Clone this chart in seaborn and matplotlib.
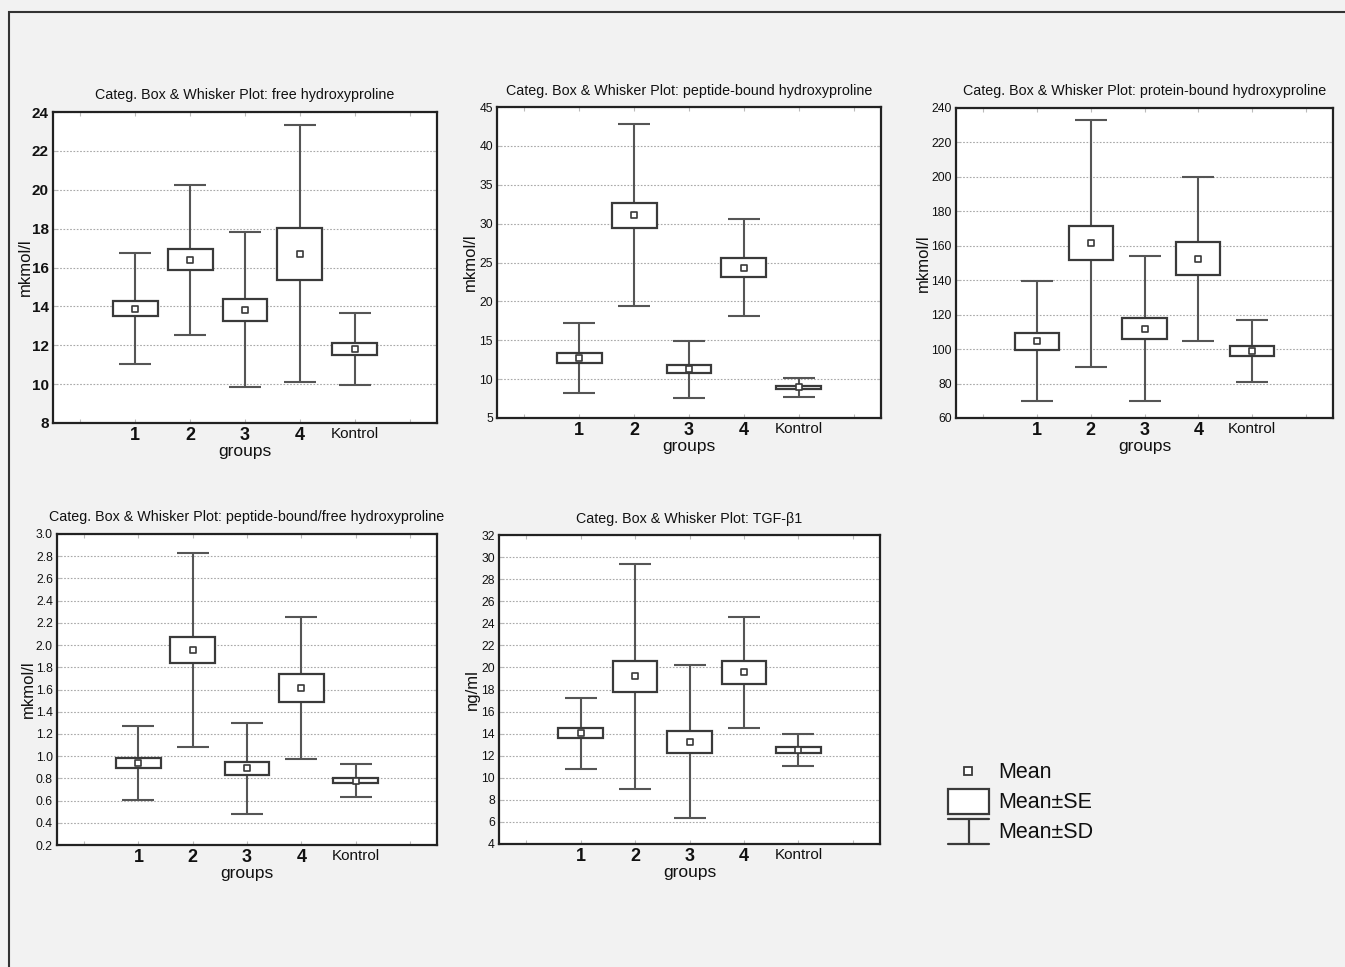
import numpy as np
import pandas as pd
import matplotlib
matplotlib.use("Agg")
import matplotlib.pyplot as plt
from matplotlib.patches import Rectangle
import seaborn as sns

# ---------------- data ----------------
groups = ["1", "2", "3", "4", "Kontrol"]

free_mean = [13.89, 16.40, 13.83, 16.70, 11.80]
free_se = [0.41, 0.53, 0.56, 1.32, 0.31]
free_sd = [2.87, 3.87, 3.98, 6.61, 1.85]

pep_mean = [12.75, 31.10, 11.27, 24.35, 8.95]
pep_se = [0.64, 1.60, 0.53, 1.22, 0.22]
pep_sd = [4.49, 11.70, 3.65, 6.22, 1.25]

prot_mean = [104.5, 161.6, 111.8, 152.6, 98.9]
prot_se = [4.85, 10.0, 6.0, 9.55, 3.1]
prot_sd = [34.9, 71.7, 42.2, 47.6, 17.9]

ratio_mean = [0.938, 1.957, 0.892, 1.614, 0.779]
ratio_se = [0.045, 0.120, 0.058, 0.128, 0.025]
ratio_sd = [0.330, 0.875, 0.410, 0.643, 0.147]

tgf_mean = [14.03, 19.18, 13.26, 19.57, 12.50]
tgf_se = [0.44, 1.42, 1.00, 1.03, 0.26]
tgf_sd = [3.21, 10.22, 6.94, 5.04, 1.46]

panels = [
    dict(title="Categ. Box & Whisker Plot: free hydroxyproline", ylabel="mkmol/l",
         mean=free_mean, se=free_se, sd=free_sd, ylim=(8, 24), step=2, fmt="{:.0f}",
         box=(53, 437, 112, 423), ybold=True, lpad=-1),
    dict(title="Categ. Box & Whisker Plot: peptide-bound hydroxyproline", ylabel="mkmol/l",
         mean=pep_mean, se=pep_se, sd=pep_sd, ylim=(5, 45), step=5, fmt="{:.0f}",
         box=(497, 881, 107, 418), ybold=False, lpad=1),
    dict(title="Categ. Box & Whisker Plot: protein-bound hydroxyproline", ylabel="mkmol/l",
         mean=prot_mean, se=prot_se, sd=prot_sd, ylim=(60, 240), step=20, fmt="{:.0f}",
         box=(956, 1333, 108, 418), ybold=False, lpad=0),
    dict(title="Categ. Box & Whisker Plot: peptide-bound/free hydroxyproline", ylabel="mkmol/l",
         mean=ratio_mean, se=ratio_se, sd=ratio_sd, ylim=(0.2, 3.0), step=0.2, fmt="{:.1f}",
         box=(57, 437, 534, 845), ybold=False, lpad=0),
    dict(title="Categ. Box & Whisker Plot: TGF-\u03b21", ylabel="ng/ml",
         mean=tgf_mean, se=tgf_se, sd=tgf_sd, ylim=(4, 32), step=2, fmt="{:.0f}",
         box=(499, 880, 535, 844), ybold=False, lpad=1),
]

# ---------------- style ----------------
sns.set_theme(style="white")
plt.rcParams["font.family"] = ["Liberation Sans", "DejaVu Sans"]

W, H = 1345, 967
BG = "#f2f2f2"
fig = plt.figure(figsize=(W / 100, H / 100), dpi=100, facecolor=BG)

WHISK = "#555555"
EDGE = "#3a3a3a"


def px_axes(l, r, t, b):
    return fig.add_axes([l / W, 1 - b / H, (r - l) / W, (b - t) / H])


for p in panels:
    ax = px_axes(*p["box"])
    ax.set_facecolor("white")
    df = pd.DataFrame({"group": groups, "mean": p["mean"], "se": p["se"], "sd": p["sd"]})
    pos = np.arange(len(groups))

    # Mean +/- SD whiskers
    ax.errorbar(pos, df["mean"], yerr=df["sd"], fmt="none", ecolor=WHISK,
                elinewidth=1.5, capsize=11.5, capthick=1.5, zorder=2)
    # Mean +/- SE boxes
    ax.bar(pos, 2 * df["se"], bottom=df["mean"] - df["se"], width=0.82,
           color="white", edgecolor=EDGE, linewidth=1.6, zorder=3)
    # Mean markers
    sns.stripplot(data=df, x="group", y="mean", order=groups, jitter=False, ax=ax,
                  marker="s", size=4.6, color="white", edgecolor=EDGE, linewidth=1.2,
                  zorder=4)

    lo, hi = p["ylim"]
    ax.set_ylim(lo, hi)
    yt = np.round(np.arange(lo, hi + p["step"] / 2, p["step"]), 3)
    ax.set_yticks(yt)
    if p["ybold"]:
        ax.set_yticklabels([p["fmt"].format(v) for v in yt], fontsize=11, fontweight="bold")
    else:
        ax.set_yticklabels([p["fmt"].format(v) for v in yt], fontsize=8.7)
    ax.set_xlim(-1.5, 5.5)
    ax.set_xticks([-1, 0, 1, 2, 3, 4, 5])
    ax.set_xticklabels([""] + groups + [""])
    for lab in ax.get_xticklabels():
        if lab.get_text() == "Kontrol":
            lab.set_fontsize(11)
            lab.set_fontweight("normal")
        else:
            lab.set_fontsize(13)
            lab.set_fontweight("bold")
    ax.tick_params(axis="x", direction="in", length=3, width=0.8, color="#bbbbbb",
                   top=True, bottom=True, pad=3, labelcolor="#111111")
    ax.tick_params(axis="y", direction="in", length=3, width=0.8, color="#bbbbbb",
                   left=True, right=True, pad=3, labelcolor="#111111")

    ax.yaxis.grid(True, linestyle=(0, (1.5, 1.5)), color="#a8a8a8", linewidth=0.8)
    ax.xaxis.grid(False)
    ax.set_axisbelow(True)
    for s in ax.spines.values():
        s.set_visible(True)
        s.set_color("#222222")
        s.set_linewidth(1.6)

    ax.set_title(p["title"], fontsize=10.3, color="#111111", pad=9)
    ax.set_xlabel("groups", fontsize=12.5, color="#111111", labelpad=0)
    ax.set_ylabel(p["ylabel"], fontsize=12, color="#111111", labelpad=p["lpad"])

# ---------------- legend ----------------
lax = fig.add_axes([0, 0, 1, 1], facecolor="none")
lax.set_xlim(0, W)
lax.set_ylim(H, 0)
lax.axis("off")
lax.plot([968], [771], marker="s", markersize=5.5, markerfacecolor="white",
         markeredgecolor=EDGE, markeredgewidth=1.3, linestyle="none")
lax.add_patch(Rectangle((948, 789), 41, 25, facecolor="white", edgecolor=EDGE, linewidth=1.6))
lax.plot([948, 989], [819, 819], color=EDGE, lw=1.6)
lax.plot([948, 989], [844, 844], color=EDGE, lw=1.6)
lax.plot([968.5, 968.5], [819, 844], color=EDGE, lw=1.6)
for txt, yy in [("Mean", 772), ("Mean\u00b1SE", 802), ("Mean\u00b1SD", 832)]:
    lax.text(998, yy, txt, fontsize=15.5, va="center", ha="left", color="#111111")

# outer frame of the picture
lax.plot([9, 9, W], [H, 12, 12], color="#333333", lw=1.5, solid_joinstyle="miter")

fig.savefig("out.png", dpi=100, facecolor=BG)
